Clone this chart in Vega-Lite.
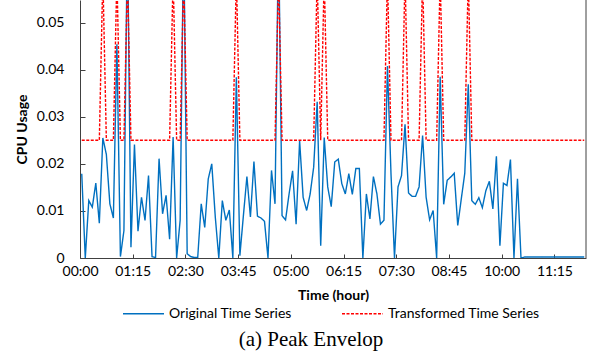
{
  "$schema": "https://vega.github.io/schema/vega-lite/v6.json",
  "width": 506,
  "height": 258,
  "autosize": {"type": "none"},
  "padding": {"left": 80, "top": 0, "right": 9, "bottom": 102},
  "background": "white",
  "config": {"view": {"stroke": null}, "font": "Lato"},
  "title": {"text": "(a) Peak Envelop", "orient": "bottom", "anchor": "middle", "font": "Liberation Serif", "fontSize": 21, "fontWeight": "normal", "color": "#000", "offset": 8, "dx": -22},
  "layer": [
    {
      "data": {"values": [
        {"t":2.5,"orig":0.0179,"trans":0.025},{"t":7.5,"orig":0.0,"trans":0.025},{"t":12.5,"orig":0.0122,"trans":0.025},{"t":17.5,"orig":0.0108,"trans":0.025},{"t":22.5,"orig":0.0159,"trans":0.025},{"t":27.5,"orig":0.0074,"trans":0.025},{"t":32.5,"orig":0.0255,"trans":0.06},{"t":37.5,"orig":0.022,"trans":0.025},{"t":42.5,"orig":0.0115,"trans":0.025},{"t":47.5,"orig":0.0085,"trans":0.025},
        {"t":52.5,"orig":0.0454,"trans":0.06},{"t":57.5,"orig":0.0003,"trans":0.025},{"t":62.5,"orig":0.0058,"trans":0.025},{"t":67.5,"orig":0.07,"trans":0.06},{"t":72.5,"orig":0.0023,"trans":0.025},{"t":77.5,"orig":0.0241,"trans":0.025},{"t":82.5,"orig":0.0057,"trans":0.025},{"t":87.5,"orig":0.0129,"trans":0.025},{"t":92.5,"orig":0.008,"trans":0.025},{"t":97.5,"orig":0.0175,"trans":0.025},
        {"t":102.5,"orig":0.0003,"trans":0.025},{"t":107.5,"orig":0.0001,"trans":0.025},{"t":112.5,"orig":0.0211,"trans":0.025},{"t":117.5,"orig":0.0094,"trans":0.025},{"t":122.5,"orig":0.0133,"trans":0.025},{"t":127.5,"orig":0.004,"trans":0.025},{"t":132.5,"orig":0.0257,"trans":0.06},{"t":137.5,"orig":0.0,"trans":0.025},{"t":142.5,"orig":0.008,"trans":0.025},{"t":147.5,"orig":0.07,"trans":0.06},
        {"t":152.5,"orig":0.0009,"trans":0.025},{"t":157.5,"orig":0.0003,"trans":0.025},{"t":162.5,"orig":0.0001,"trans":0.025},{"t":167.5,"orig":0.0001,"trans":0.025},{"t":172.5,"orig":0.0115,"trans":0.025},{"t":177.5,"orig":0.0065,"trans":0.025},{"t":182.5,"orig":0.0168,"trans":0.025},{"t":187.5,"orig":0.02,"trans":0.025},{"t":192.5,"orig":0.0087,"trans":0.025},{"t":197.5,"orig":0.0,"trans":0.025},
        {"t":202.5,"orig":0.0122,"trans":0.025},{"t":207.5,"orig":0.008,"trans":0.025},{"t":212.5,"orig":0.0102,"trans":0.025},{"t":217.5,"orig":0.0,"trans":0.025},{"t":222.5,"orig":0.0384,"trans":0.06},{"t":227.5,"orig":0.0005,"trans":0.025},{"t":232.5,"orig":0.009,"trans":0.025},{"t":237.5,"orig":0.0173,"trans":0.025},{"t":242.5,"orig":0.0087,"trans":0.025},{"t":247.5,"orig":0.0205,"trans":0.025},
        {"t":252.5,"orig":0.0089,"trans":0.025},{"t":257.5,"orig":0.0085,"trans":0.025},{"t":262.5,"orig":0.0078,"trans":0.025},{"t":267.5,"orig":0.0,"trans":0.025},{"t":272.5,"orig":0.0186,"trans":0.025},{"t":277.5,"orig":0.0115,"trans":0.025},{"t":282.5,"orig":0.07,"trans":0.06},{"t":287.5,"orig":0.009,"trans":0.025},{"t":292.5,"orig":0.0081,"trans":0.025},{"t":297.5,"orig":0.0136,"trans":0.025},
        {"t":302.5,"orig":0.0185,"trans":0.025},{"t":307.5,"orig":0.0072,"trans":0.025},{"t":312.5,"orig":0.0249,"trans":0.025},{"t":317.5,"orig":0.0129,"trans":0.025},{"t":322.5,"orig":0.0101,"trans":0.025},{"t":327.5,"orig":0.0136,"trans":0.025},{"t":332.5,"orig":0.0193,"trans":0.025},{"t":337.5,"orig":0.0332,"trans":0.06},{"t":342.5,"orig":0.0026,"trans":0.025},{"t":347.5,"orig":0.0256,"trans":0.06},
        {"t":352.5,"orig":0.0151,"trans":0.025},{"t":357.5,"orig":0.0109,"trans":0.025},{"t":362.5,"orig":0.0204,"trans":0.025},{"t":367.5,"orig":0.021,"trans":0.025},{"t":372.5,"orig":0.0158,"trans":0.025},{"t":377.5,"orig":0.0136,"trans":0.025},{"t":382.5,"orig":0.0179,"trans":0.025},{"t":387.5,"orig":0.0135,"trans":0.025},{"t":392.5,"orig":0.019,"trans":0.025},{"t":397.5,"orig":0.019,"trans":0.025},
        {"t":402.5,"orig":0.0,"trans":0.025},{"t":407.5,"orig":0.0136,"trans":0.025},{"t":412.5,"orig":0.0083,"trans":0.025},{"t":417.5,"orig":0.0173,"trans":0.025},{"t":422.5,"orig":0.0136,"trans":0.025},{"t":427.5,"orig":0.0072,"trans":0.025},{"t":432.5,"orig":0.008,"trans":0.025},{"t":437.5,"orig":0.0408,"trans":0.06},{"t":442.5,"orig":0.018,"trans":0.025},{"t":447.5,"orig":0.0,"trans":0.025},
        {"t":452.5,"orig":0.0151,"trans":0.025},{"t":457.5,"orig":0.0175,"trans":0.025},{"t":462.5,"orig":0.0284,"trans":0.06},{"t":467.5,"orig":0.0138,"trans":0.025},{"t":472.5,"orig":0.0131,"trans":0.025},{"t":477.5,"orig":0.0131,"trans":0.025},{"t":482.5,"orig":0.0151,"trans":0.025},{"t":487.5,"orig":0.026,"trans":0.06},{"t":492.5,"orig":0.0129,"trans":0.025},{"t":497.5,"orig":0.0081,"trans":0.025},
        {"t":502.5,"orig":0.0101,"trans":0.025},{"t":507.5,"orig":0.0,"trans":0.025},{"t":512.5,"orig":0.0385,"trans":0.06},{"t":517.5,"orig":0.0114,"trans":0.025},{"t":522.5,"orig":0.0165,"trans":0.025},{"t":527.5,"orig":0.0172,"trans":0.025},{"t":532.5,"orig":0.018,"trans":0.025},{"t":537.5,"orig":0.0069,"trans":0.025},{"t":542.5,"orig":0.0125,"trans":0.025},{"t":547.5,"orig":0.018,"trans":0.025},
        {"t":552.5,"orig":0.0369,"trans":0.06},{"t":557.5,"orig":0.0122,"trans":0.025},{"t":562.5,"orig":0.0114,"trans":0.025},{"t":567.5,"orig":0.0128,"trans":0.025},{"t":572.5,"orig":0.0107,"trans":0.025},{"t":577.5,"orig":0.0143,"trans":0.025},{"t":582.5,"orig":0.0163,"trans":0.025},{"t":587.5,"orig":0.0104,"trans":0.025},{"t":592.5,"orig":0.0216,"trans":0.025},{"t":597.5,"orig":0.0026,"trans":0.025},
        {"t":602.5,"orig":0.0159,"trans":0.025},{"t":607.5,"orig":0.0154,"trans":0.025},{"t":612.5,"orig":0.0209,"trans":0.025},{"t":617.5,"orig":0.0,"trans":0.025},{"t":622.5,"orig":0.0168,"trans":0.025},{"t":627.5,"orig":0.0,"trans":0.025},{"t":632.5,"orig":0.0002,"trans":0.025},{"t":637.5,"orig":0.0002,"trans":0.025},{"t":642.5,"orig":0.0002,"trans":0.025},{"t":647.5,"orig":0.0002,"trans":0.025},
        {"t":652.5,"orig":0.0002,"trans":0.025},{"t":657.5,"orig":0.0002,"trans":0.025},{"t":662.5,"orig":0.0002,"trans":0.025},{"t":667.5,"orig":0.0002,"trans":0.025},{"t":672.5,"orig":0.0002,"trans":0.025},{"t":677.5,"orig":0.0002,"trans":0.025},{"t":682.5,"orig":0.0002,"trans":0.025},{"t":687.5,"orig":0.0002,"trans":0.025},{"t":692.5,"orig":0.0002,"trans":0.025},{"t":697.5,"orig":0.0002,"trans":0.025},
        {"t":702.5,"orig":0.0002,"trans":0.025},{"t":707.5,"orig":0.0002,"trans":0.025},{"t":712.5,"orig":0.0002,"trans":0.025},{"t":717.5,"orig":0.0002,"trans":0.025}
      ]},
      "transform": [{"fold": ["orig", "trans"], "as": ["series", "usage"]}],
      "mark": {"type": "line", "clip": true, "strokeWidth": 1.4},
      "encoding": {
        "x": {"field": "t", "type": "quantitative", "scale": {"domain": [0, 720], "nice": false, "zero": false},
          "axis": {"values": [0, 75, 150, 225, 300, 375, 450, 525, 600, 675], "labelExpr": "utcFormat(datum.value*60000, '%H:%M')", "labelFlush": false, "labelOverlap": false, "title": "Time (hour)", "titleFontWeight": "bold", "titleFontSize": 14, "titleColor": "#000", "labelFontSize": 14, "labelColor": "#000", "tickSize": -4, "tickColor": "#404040", "domainColor": "#404040", "grid": false, "labelPadding": 10, "titlePadding": 10}},
        "y": {"field": "usage", "type": "quantitative", "scale": {"domain": [0, 0.0548], "nice": false, "zero": true},
          "axis": {"values": [0, 0.01, 0.02, 0.03, 0.04, 0.05], "labelExpr": "datum.value == 0 ? '0' : format(datum.value, '.2f')", "title": "CPU Usage", "titleFontWeight": "bold", "titleFontSize": 14, "titleColor": "#000", "labelFontSize": 14, "labelColor": "#000", "tickSize": -5, "tickColor": "#404040", "domainColor": "#404040", "grid": false, "labelPadding": 21, "titlePadding": 7}},
        "color": {"field": "series", "type": "nominal", "scale": {"domain": ["orig", "trans"], "range": ["#0070C0", "#FF0000"]},
          "legend": {"orient": "none", "legendX": 42, "legendY": 292, "direction": "horizontal", "title": null, "symbolType": "stroke", "symbolSize": 1681, "symbolStrokeWidth": 1.4, "labelFontSize": 14, "labelColor": "#000", "labelOffset": 4, "columnPadding": 47, "labelExpr": "datum.label == 'orig' ? 'Original Time Series' : 'Transformed Time Series'"}},
        "strokeDash": {"field": "series", "type": "nominal", "scale": {"domain": ["orig", "trans"], "range": [[1, 0], [3, 1.5]]}, "legend": null}
      }
    },
    {
      "data": {"values": [{"edge": 720}]},
      "mark": {"type": "rule", "color": "#404040", "strokeWidth": 1},
      "encoding": {"x": {"field": "edge", "type": "quantitative"}}
    }
  ]
}
